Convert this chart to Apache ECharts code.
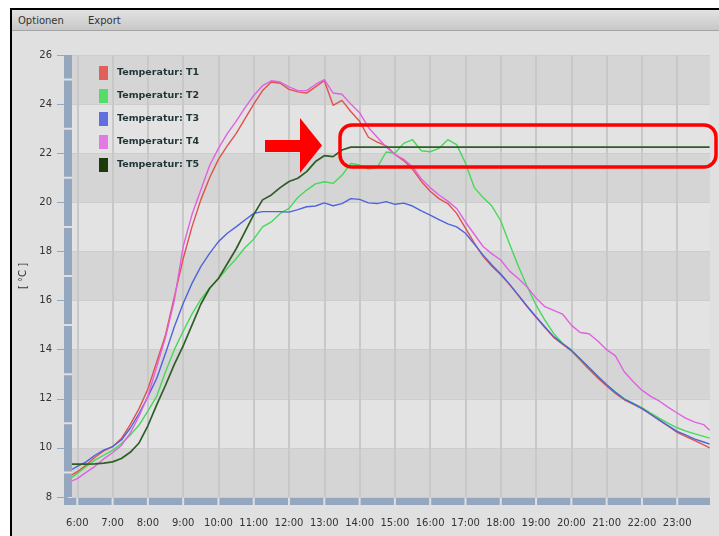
<!DOCTYPE html>
<html>
<head>
<meta charset="utf-8">
<script src="https://cdn.jsdelivr.net/npm/echarts@6/dist/echarts.min.js"></script>
<style>
    body { margin: 0; background: #fff; }
    #frame { position: absolute; left: 10px; top: 8px; width: 707px; height: 526px;
        border-left: 2px solid #000; border-top: 2px solid #000; background: #e0e0e0; }
    #menu { position: absolute; left: 12px; top: 10px; width: 707px; height: 20px;
        background: linear-gradient(#e2e2e2, #c8c8c8); border-bottom: 1px solid #a4a4a4;
        font: 10px "DejaVu Sans"; color: #333; }
    #menu span { position: absolute; top: 5px; }
    #chart { position: absolute; left: 0; top: 0; width: 719px; height: 536px; }
</style>
</head>
<body>
<div id="frame"></div>
<div id="menu"><span style="left:6px">Optionen</span><span style="left:76px">Export</span></div>
<div id="chart"></div>
<script>
// Messzeiten in Stunden (5:51 .. 23:55, alle 15 min)
var times = [5.85];
for (var t = 6; t < 23.8; t += 0.25) times.push(t);
times.push(23.92);

var hours = [6, 7, 8, 9, 10, 11, 12, 13, 14, 15, 16, 17, 18, 19, 20, 21, 22, 23];
var names = ['Temperatur: T1', 'Temperatur: T2', 'Temperatur: T3', 'Temperatur: T4', 'Temperatur: T5'];

var t1 = [8.9,
    9.03, 9.3, 9.62, 9.88, 10.05, 10.38, 10.95, 11.6,
    12.4, 13.5, 14.6, 16.15, 17.7, 19.0, 20.1, 21.0,
    21.75, 22.3, 22.8, 23.4, 24.0, 24.55, 24.9, 24.85,
    24.6, 24.5, 24.45, 24.7, 24.95, 23.95, 24.15, 23.7,
    23.3, 22.65, 22.45, 22.3, 21.95, 21.7, 21.35, 20.85,
    20.45, 20.15, 19.95, 19.55, 18.95, 18.35, 17.8, 17.4,
    17.05, 16.65, 16.2, 15.75, 15.32, 14.9, 14.5, 14.22,
    13.95, 13.58, 13.2, 12.85, 12.52, 12.22, 11.96, 11.78,
    11.6, 11.36, 11.12, 10.88, 10.63, 10.46, 10.3, 10.12,
    10.0];
var t2 = [8.8,
    8.96, 9.23, 9.5, 9.7, 9.9, 10.18, 10.52, 10.93,
    11.5, 12.1, 13.1, 14.0, 14.75, 15.45, 16.05, 16.5,
    16.9, 17.3, 17.7, 18.15, 18.5, 19.0, 19.2, 19.55,
    19.75, 20.2, 20.5, 20.75, 20.84, 20.77, 21.1, 21.58,
    21.52, 21.35, 21.42, 22.05, 22.0, 22.4, 22.55, 22.1,
    22.06, 22.2, 22.55, 22.35, 21.6, 20.6, 20.2, 19.85,
    19.25, 18.3, 17.4, 16.56, 15.82, 15.2, 14.66, 14.26,
    13.98, 13.62, 13.27, 12.92, 12.58, 12.27, 12.0, 11.82,
    11.64, 11.42, 11.2, 11.0, 10.82, 10.68, 10.57, 10.47,
    10.4];
var t3 = [9.12,
    9.25, 9.43, 9.7, 9.91, 10.05, 10.32, 10.8, 11.4,
    12.08, 12.83, 13.85, 14.93, 15.88, 16.7, 17.38, 17.92,
    18.4, 18.74, 19.0, 19.28, 19.55, 19.62, 19.62, 19.62,
    19.6, 19.7, 19.82, 19.85, 19.98, 19.86, 19.95, 20.15,
    20.12, 19.98, 19.95, 20.03, 19.92, 19.97, 19.85, 19.65,
    19.48, 19.3, 19.12, 19.0, 18.74, 18.3, 17.85, 17.45,
    17.08, 16.67, 16.22, 15.77, 15.34, 14.93, 14.53, 14.25,
    13.98, 13.63, 13.27, 12.92, 12.57, 12.26, 11.99, 11.8,
    11.61, 11.37, 11.13, 10.9, 10.67, 10.52, 10.36, 10.24,
    10.15];
var t4 = [8.66,
    8.75, 9.0, 9.25, 9.55, 9.8, 10.1, 10.6, 11.3,
    12.1, 13.3, 14.5, 16.0, 18.2, 19.5, 20.5, 21.5,
    22.2, 22.8, 23.3, 23.85, 24.35, 24.75, 24.95, 24.9,
    24.7, 24.55, 24.55, 24.8, 25.0, 24.45, 24.4, 24.0,
    23.65, 23.05, 22.65, 22.25, 21.95, 21.75, 21.45, 20.95,
    20.6, 20.3, 20.05, 19.75, 19.2, 18.7, 18.2, 17.9,
    17.65, 17.2, 16.9, 16.55, 16.1, 15.75, 15.6, 15.45,
    15.0, 14.7, 14.65, 14.35, 14.0, 13.75, 13.1, 12.7,
    12.35, 12.1, 11.9, 11.65, 11.42, 11.2, 11.05, 10.95,
    10.72];
var t5 = [9.34,
    9.34, 9.34, 9.35, 9.38, 9.43, 9.57, 9.82, 10.2,
    10.9, 11.75, 12.55, 13.4, 14.15, 15.0, 15.85, 16.5,
    16.9, 17.5, 18.1, 18.8, 19.5, 20.1, 20.3, 20.6,
    20.85, 20.98, 21.25, 21.66, 21.9, 21.86, 22.13, 22.25,
    22.25, 22.25, 22.25, 22.25, 22.25, 22.25, 22.25, 22.25,
    22.25, 22.25, 22.25, 22.25, 22.25, 22.25, 22.25, 22.25,
    22.25, 22.25, 22.25, 22.25, 22.25, 22.25, 22.25, 22.25,
    22.25, 22.25, 22.25, 22.25, 22.25, 22.25, 22.25, 22.25,
    22.25, 22.25, 22.25, 22.25, 22.25, 22.25, 22.25, 22.25,
    22.25];

var iconColors = ['#e2605c', '#55dd6a', '#5f6fe0', '#e27ae2', '#1d3a0c'];
var lineColors = ['#e0524c', '#46d85a', '#5063dc', '#df62df', '#2e5e26'];
var barColor = '#94a7bf';

var chart = echarts.init(document.getElementById('chart'));

var series = [t1, t2, t3, t4, t5].map(function (vals, i) {
    return {
        name: names[i],
        type: 'line',
        showSymbol: false,
        itemStyle: { color: iconColors[i] },
        lineStyle: { color: lineColors[i], width: i === 4 ? 1.7 : 1.4 },
        data: times.map(function (h, j) { return [h, vals[j]]; })
    };
});

var option = {
    animation: false,
    grid: { left: 72, right: 9, top: 55, bottom: 39 },
    legend: {
        data: names,
        orient: 'vertical',
        left: 94,
        top: 61,
        icon: 'rect',
        itemWidth: 9,
        itemHeight: 14,
        itemGap: 9,
        textStyle: { fontFamily: 'DejaVu Sans', fontWeight: 'bold', fontSize: 9.5, color: '#1f3535', padding: [0, 0, 0, 4] }
    },
    xAxis: {
        type: 'value',
        min: 5.85,
        max: 23.93,
        offset: 4,
        // Balken mit Lücken an jeder vollen Stunde
        axisLine: { lineStyle: { color: barColor, width: 7, cap: 'butt', type: [33.29, 2], dashOffset: 29 } },
        axisTick: { show: false, customValues: hours },
        axisLabel: {
            customValues: hours,
            margin: 17,
            fontFamily: 'DejaVu Sans',
            fontSize: 10,
            color: '#333',
            formatter: function (v) { return v + ':00'; }
        },
        splitLine: { show: true, lineStyle: { color: '#c8c8c8', width: 2 } }
    },
    yAxis: {
        type: 'value',
        min: 8,
        max: 26,
        interval: 2,
        offset: 4,
        name: '[ °C ]',
        nameLocation: 'middle',
        nameGap: 34,
        nameTextStyle: { fontFamily: 'DejaVu Sans', fontSize: 10, color: '#333' },
        // Balken mit Lücken bei ungeraden Werten
        axisLine: { show: true, lineStyle: { color: barColor, width: 8, cap: 'butt', type: [47.11, 2], dashOffset: 23.55 } },
        axisTick: { show: true, length: 11, lineStyle: { color: barColor, width: 1 } },
        axisLabel: { margin: 16, fontFamily: 'DejaVu Sans', fontSize: 10, color: '#333' },
        splitLine: { show: true, lineStyle: { color: '#cdcdcd', width: 1 } },
        splitArea: { show: true, areaStyle: { color: ['#d5d5d5', '#e3e3e3'] } }
    },
    graphic: [
        { type: 'rect', z: 10, shape: { x: 64, y: 498, width: 8, height: 7 }, style: { fill: barColor } },
        {
            type: 'polygon', z: 100,
            shape: { points: [[265, 140], [300, 140], [300, 118], [322, 145.5], [300, 173], [300, 152], [265, 152]] },
            style: { fill: '#ff0000' }
        },
        {
            type: 'rect', z: 100,
            shape: { x: 340, y: 125, width: 376, height: 42, r: 12 },
            style: { fill: 'none', stroke: '#ff0000', lineWidth: 3.5 }
        }
    ],
    series: series
};
chart.setOption(option);
</script>
</body>
</html>
